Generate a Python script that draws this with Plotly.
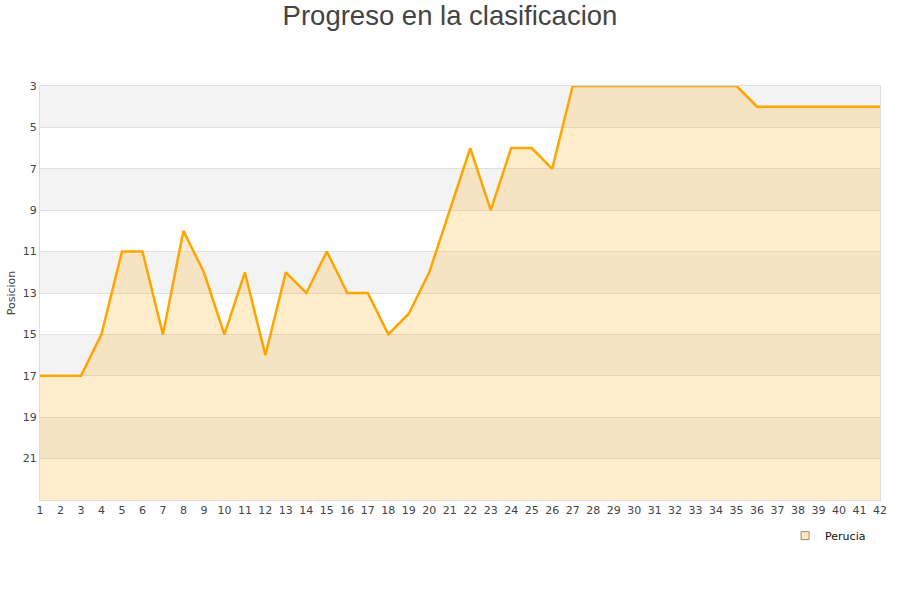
import plotly.graph_objects as go

jornadas = list(range(1, 43))
posiciones = [17, 17, 17, 15, 11, 11, 15, 10, 12, 15,
              12, 16, 12, 13, 11, 13, 13, 15, 14, 12,
              9, 6, 9, 6, 6, 7, 3, 3, 3, 3,
              3, 3, 3, 3, 3, 4, 4, 4, 4, 4,
              4, 4]
y_ticks = [3, 5, 7, 9, 11, 13, 15, 17, 19, 21]
y_bottom = 23
y_top = 3
team = "Perucia"
title = "Progreso en la clasificacion"
y_title = "Posicion"

fig = go.Figure()
fig.add_trace(go.Scatter(x=jornadas, y=[y_bottom] * len(jornadas), mode="lines",
                         line=dict(width=0), showlegend=False, hoverinfo="skip"))
fig.add_trace(go.Scatter(x=jornadas, y=posiciones, mode="lines", name=team,
                         line=dict(color="#FFA500", width=2.5),
                         fill="tonexty", fillcolor="rgba(255,165,0,0.2)",
                         showlegend=False))
fig.add_trace(go.Scatter(x=[None], y=[None], mode="markers", name=team,
                         marker=dict(symbol="square", size=8, color="#fde8c4",
                                     line=dict(color="#9c8b6c", width=1))))

shapes = []
for i, t in enumerate(y_ticks):
    if i % 2 == 0:
        shapes.append(dict(type="rect", xref="paper", yref="y", x0=0, x1=1,
                           y0=t, y1=t + 2, fillcolor="#f3f3f3", line=dict(width=0),
                           layer="below"))

fig.update_layout(
    width=900, height=600,
    paper_bgcolor="white", plot_bgcolor="white",
    margin=dict(l=40, r=20, t=86, b=100, autoexpand=False),
    title=dict(text=title, x=0.5, xanchor="center", y=1 - 15 / 600,
               yanchor="middle",
               font=dict(family="Liberation Sans, Arial, sans-serif", size=27.5, color="#444")),
    font=dict(family="DejaVu Sans, sans-serif", size=11, color="#444"),
    shapes=shapes,
    showlegend=True,
    legend=dict(x=0.887, xanchor="left", y=-0.051, yanchor="top",
                font=dict(size=11, color="#111"), bgcolor="rgba(0,0,0,0)"),
    xaxis=dict(range=[1, 42], tickmode="array", tickvals=jornadas, automargin=False,
               showgrid=False, zeroline=False, showline=True, linecolor="#ddd",
               mirror=True, ticks="", tickfont=dict(size=11, color="#444")),
    yaxis=dict(range=[y_bottom, y_top], tickmode="array", tickvals=y_ticks,
               automargin=False,
               showgrid=True, gridcolor="#e0e0e0", zeroline=False,
               showline=True, linecolor="#ddd", mirror=True, ticks="",
               title=dict(text=y_title, font=dict(size=11, color="#444"), standoff=4),
               tickfont=dict(size=11, color="#444")),
)

fig.write_html("out.html", config={"displayModeBar": False},
               post_script="document.body.style.margin='0px';document.body.style.overflow='hidden';")
